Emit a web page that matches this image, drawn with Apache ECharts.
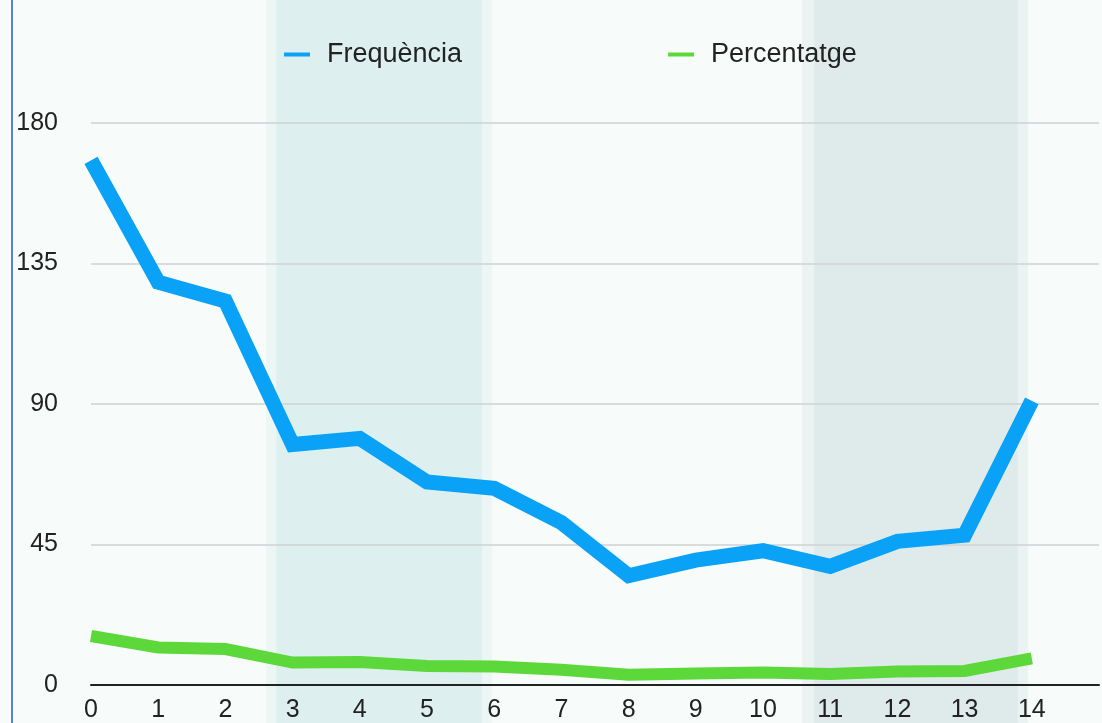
<!DOCTYPE html>
<html>
<head>
<meta charset="utf-8">
<script src="https://cdn.jsdelivr.net/npm/echarts@6/dist/echarts.min.js"></script>
<style>
html,body{margin:0;padding:0;background:#f7fbfa;}
#chart{width:1102px;height:723px;}
</style>
</head>
<body>
<div id="chart"></div>
<script>
const categories = [0,1,2,3,4,5,6,7,8,9,10,11,12,13,14];
const frequencia = [168,129,123,77,79,65,63,52,35,40,43,38,46,48,91];
const percentatge = [15.7,12.0,11.5,7.2,7.4,6.1,5.9,4.9,3.3,3.7,4.0,3.5,4.3,4.5,8.5];
const yTicks = [0,45,90,135,180];
const seriesNames = ['Frequència','Percentatge'];
const bandsOuter = [[2.6,5.95],[10.55,13.9]];
const bandsInner = [[2.75,5.8],[10.73,13.75]];

const chart = echarts.init(document.getElementById('chart'));
const font = 'Liberation Sans, Arial, Helvetica, sans-serif';

function pairs(arr){ return arr.map((v,i)=>[categories[i], v]); }

chart.setOption({
  backgroundColor: '#f7fbfa',
  animation: false,
  legend: {
    zlevel: 1,
    top: 41, left: 284, padding: 0,
    itemGap: 206, itemWidth: 26, itemHeight: 4,
    icon: 'rect',
    textStyle: {fontSize: 27, color: '#222', fontFamily: font, padding: [0,0,0,12]},
    data: seriesNames
  },
  graphic: [{
    type: 'rect', zlevel: 1, shape: {x: 11, y: 0, width: 2, height: 723},
    style: {fill: '#5a7fe0'}
  }],
  grid: [
    {left: 91, right: -1, top: 123, bottom: 38, containLabel: false},
    {left: 91, right: -1, top: 0, bottom: 0, containLabel: false}
  ],
  xAxis: [
    {
      type: 'value', gridIndex: 0, min: 0, max: 15, interval: 1, zlevel: 1,
      axisLine: {show: true, lineStyle: {color: '#222', width: 2}},
      axisTick: {show: false},
      splitLine: {show: false},
      axisLabel: {
        margin: 13, fontSize: 25, color: '#222', fontFamily: font,
        formatter: v => (v === 15 ? '' : String(v))
      }
    },
    {type: 'value', gridIndex: 1, min: 0, max: 15, show: false}
  ],
  yAxis: [
    {
      type: 'value', gridIndex: 0, min: 0, max: 180, interval: 45, zlevel: 1,
      axisLine: {show: false}, axisTick: {show: false},
      splitLine: {show: true, lineStyle: {color: '#cfd2d2', width: 1.5}},
      axisLabel: {
        margin: 33, fontSize: 25, color: '#222', fontFamily: font,
        padding: [5, 0, 0, 0],
        formatter: v => (yTicks.indexOf(v) >= 0 ? String(v) : '')
      }
    },
    {type: 'value', gridIndex: 1, min: 0, max: 1, show: false}
  ],
  series: [
    {
      type: 'line', xAxisIndex: 1, yAxisIndex: 1, data: [], zlevel: 0, z: 1, silent: true,
      markArea: {
        silent: true,
        data: [
          [{xAxis: bandsOuter[0][0], itemStyle: {color: '#ebf6f5'}}, {xAxis: bandsOuter[0][1]}],
          [{xAxis: bandsOuter[1][0], itemStyle: {color: '#ebf2f2'}}, {xAxis: bandsOuter[1][1]}]
        ]
      }
    },
    {
      type: 'line', xAxisIndex: 1, yAxisIndex: 1, data: [], zlevel: 0, z: 2, silent: true,
      markArea: {
        silent: true,
        data: [
          [{xAxis: bandsInner[0][0], itemStyle: {color: '#ddf0ef'}}, {xAxis: bandsInner[0][1]}],
          [{xAxis: bandsInner[1][0], itemStyle: {color: '#dfeaea'}}, {xAxis: bandsInner[1][1]}]
        ]
      }
    },
    {
      name: seriesNames[0], type: 'line', xAxisIndex: 0, yAxisIndex: 0, zlevel: 1,
      data: pairs(frequencia), symbol: 'none', z: 5,
      lineStyle: {color: '#09a2f7', width: 15, cap: 'butt', join: 'miter'},
      itemStyle: {color: '#09a2f7'}
    },
    {
      name: seriesNames[1], type: 'line', xAxisIndex: 0, yAxisIndex: 0, zlevel: 1,
      data: pairs(percentatge), symbol: 'none', z: 4,
      lineStyle: {color: '#5dd83a', width: 12, cap: 'butt', join: 'miter'},
      itemStyle: {color: '#5dd83a'}
    }
  ]
});
</script>
</body>
</html>
